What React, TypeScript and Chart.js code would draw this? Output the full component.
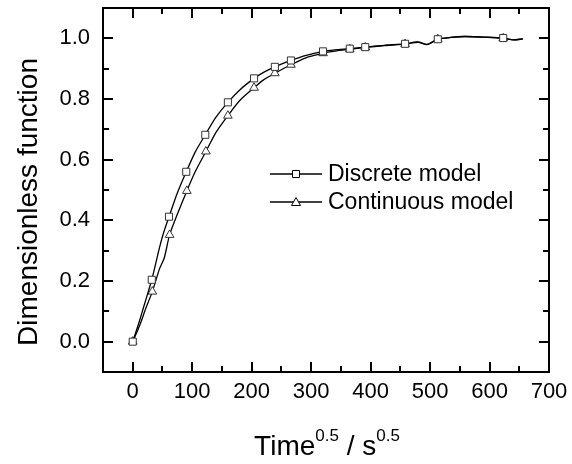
import React, { useEffect, useRef } from "react";
import { Chart, registerables } from "chart.js";

Chart.register(...registerables);

// ---- data ----
const seriesNames = ["Discrete model", "Continuous model"];

const discreteX = [0, 10, 20, 32, 45, 52, 61, 75, 90, 105, 122, 140, 160, 180, 204, 220, 239, 266, 290, 320, 340, 365, 391, 423, 458, 480, 495, 513, 535, 558, 590, 623, 640, 656];
const discreteY = [0, 0.06, 0.125, 0.204, 0.31, 0.36, 0.412, 0.49, 0.56, 0.625, 0.682, 0.74, 0.789, 0.83, 0.868, 0.888, 0.906, 0.927, 0.943, 0.957, 0.962, 0.966, 0.971, 0.977, 0.982, 0.988, 0.98, 0.997, 1.003, 1.006, 1.004, 1.001, 0.995, 0.998];
const discreteMarkerX = [0, 32, 61, 90, 122, 160, 204, 239, 266, 320, 365, 391, 458, 513, 623];

const continuousX = [0, 12, 22, 33, 45, 53, 62, 75, 91, 105, 123, 140, 160, 180, 204, 220, 239, 266, 290, 320, 340, 365, 391, 423, 458, 480, 495, 513, 535, 558, 590, 623, 640, 656];
const continuousY = [0, 0.055, 0.11, 0.165, 0.24, 0.276, 0.352, 0.42, 0.497, 0.56, 0.627, 0.69, 0.745, 0.795, 0.837, 0.863, 0.885, 0.913, 0.935, 0.951, 0.958, 0.964, 0.97, 0.976, 0.981, 0.987, 0.979, 0.997, 1.003, 1.006, 1.004, 1.0, 0.995, 0.998];
const continuousMarkerX = [0, 33, 62, 91, 123, 160, 204, 239, 266, 320, 365, 391, 458, 513, 623];

const xMajorTicks = [0, 100, 200, 300, 400, 500, 600, 700];
const xMinorTicks = [-50, 50, 150, 250, 350, 450, 550, 650];
const yMajorTicks = [0, 0.2, 0.4, 0.6, 0.8, 1.0];
const yMinorTicks = [-0.1, 0.1, 0.3, 0.5, 0.7, 0.9, 1.1];

const X_MIN = -50;
const X_MAX = 700;
const Y_MIN = -0.1;
const Y_MAX = 1.1;

const FONT = '"Liberation Sans", Arial, Helvetica, sans-serif';

const decoPlugin = {
  id: "deco",
  afterDraw(chart: any) {
    const ctx = chart.ctx as CanvasRenderingContext2D;
    const { left, right, top, bottom } = chart.chartArea;
    const xs = chart.scales.x;
    const ys = chart.scales.y;
    const MAJ = 10;
    const MIN = 6;
    ctx.save();
    ctx.strokeStyle = "#000";
    ctx.lineWidth = 2;
    ctx.lineCap = "butt";
    // ticks
    ctx.beginPath();
    const xt = (vals: number[], len: number) => {
      vals.forEach((v) => {
        const p = Math.round(xs.getPixelForValue(v));
        ctx.moveTo(p, bottom);
        ctx.lineTo(p, bottom - len);
        ctx.moveTo(p, top);
        ctx.lineTo(p, top + len);
      });
    };
    const yt = (vals: number[], len: number) => {
      vals.forEach((v) => {
        const p = Math.round(ys.getPixelForValue(v));
        ctx.moveTo(left, p);
        ctx.lineTo(left + len, p);
        ctx.moveTo(right, p);
        ctx.lineTo(right - len, p);
      });
    };
    xt(xMajorTicks, MAJ);
    xt(xMinorTicks, MIN);
    yt(yMajorTicks, MAJ);
    yt(yMinorTicks, MIN);
    ctx.stroke();
    // frame
    ctx.strokeRect(left, top, right - left, bottom - top);

    // legend
    const lx0 = 270;
    const lx1 = 322;
    const rows = [174, 202];
    ctx.font = `23px ${FONT}`;
    ctx.fillStyle = "#000";
    ctx.textBaseline = "middle";
    ctx.textAlign = "left";
    rows.forEach((ry, i) => {
      ctx.lineWidth = 1.3;
      ctx.beginPath();
      ctx.moveTo(lx0, ry);
      ctx.lineTo(lx1, ry);
      ctx.stroke();
      const cx = (lx0 + lx1) / 2;
      ctx.lineWidth = 1;
      ctx.fillStyle = "#fff";
      ctx.beginPath();
      if (i === 0) {
        ctx.rect(cx - 3.5, ry - 3.5, 7, 7);
      } else {
        ctx.moveTo(cx, ry - 4.5);
        ctx.lineTo(cx + 4.5, ry + 3.5);
        ctx.lineTo(cx - 4.5, ry + 3.5);
        ctx.closePath();
      }
      ctx.fill();
      ctx.stroke();
      ctx.fillStyle = "#000";
      ctx.fillText(seriesNames[i], 328, ry + 1);
    });

    // y title
    ctx.save();
    ctx.translate(37, 202);
    ctx.rotate(-Math.PI / 2);
    ctx.font = `28px ${FONT}`;
    ctx.textAlign = "center";
    ctx.textBaseline = "alphabetic";
    ctx.fillText("Dimensionless function", 0, 0);
    ctx.restore();

    // x title with superscripts
    const big = `28px ${FONT}`;
    const small = `17px ${FONT}`;
    const parts: [string, string, number][] = [
      ["Time", big, 0],
      ["0.5", small, -14],
      [" / s", big, 0],
      ["0.5", small, -14],
    ];
    let total = 0;
    parts.forEach(([t, f]) => {
      ctx.font = f;
      total += ctx.measureText(t).width;
    });
    let cx = 327 - total / 2;
    const baseY = 455;
    ctx.textAlign = "left";
    ctx.textBaseline = "alphabetic";
    parts.forEach(([t, f, dy]) => {
      ctx.font = f;
      ctx.fillText(t, cx, baseY + dy);
      cx += ctx.measureText(t).width;
    });
    ctx.restore();
  },
};

export default function App() {
  const ref = useRef<HTMLCanvasElement | null>(null);
  useEffect(() => {
    if (!ref.current) return;
    const mk = (xsArr: number[], ysArr: number[]) => xsArr.map((x, i) => ({ x, y: ysArr[i] }));
    const markerRadius = (markers: number[], xsArr: number[], r: number) => (c: any) =>
      markers.includes(xsArr[c.dataIndex]) ? r : 0;
    const chart = new Chart(ref.current, {
      type: "scatter",
      data: {
        datasets: [
          {
            label: seriesNames[0],
            data: mk(discreteX, discreteY),
            showLine: true,
            borderColor: "#000",
            borderWidth: 1.3,
            tension: 0.25,
            pointStyle: "rect",
            pointRadius: markerRadius(discreteMarkerX, discreteX, 5),
            pointBorderColor: "#333",
            pointBackgroundColor: "#fff",
            pointBorderWidth: 1,
          },
          {
            label: seriesNames[1],
            data: mk(continuousX, continuousY),
            showLine: true,
            borderColor: "#000",
            borderWidth: 1.3,
            tension: 0.25,
            pointStyle: "triangle",
            pointRadius: markerRadius(continuousMarkerX, continuousX, 5),
            pointBorderColor: "#333",
            pointBackgroundColor: "#fff",
            pointBorderWidth: 1,
          },
        ],
      },
      options: {
        animation: false,
        responsive: false,
        devicePixelRatio: 1,
        layout: { padding: { left: 0, top: 8, right: 23, bottom: 0 } },
        plugins: { legend: { display: false }, tooltip: { enabled: false } },
        scales: {
          x: {
            type: "linear",
            min: X_MIN,
            max: X_MAX,
            grid: { display: false, drawTicks: false },
            border: { display: false },
            afterBuildTicks: (s: any) => {
              s.ticks = xMajorTicks.map((v) => ({ value: v }));
            },
            afterFit: (s: any) => {
              s.height = 92;
              s.paddingLeft = 0;
              s.paddingRight = 0;
            },
            ticks: {
              color: "#000",
              font: { family: FONT, size: 22 },
              padding: 7,
              maxRotation: 0,
              autoSkip: false,
              callback: (v: any) => String(v),
            },
          },
          y: {
            type: "linear",
            min: Y_MIN,
            max: Y_MAX,
            grid: { display: false, drawTicks: false },
            border: { display: false },
            afterBuildTicks: (s: any) => {
              s.ticks = yMajorTicks.map((v) => ({ value: v }));
            },
            afterFit: (s: any) => {
              s.width = 103;
              s.paddingTop = 0;
              s.paddingBottom = 0;
            },
            ticks: {
              color: "#000",
              font: { family: FONT, size: 22 },
              padding: 13,
              autoSkip: false,
              callback: (v: any) => Number(v).toFixed(1),
            },
          },
        },
      },
      plugins: [decoPlugin],
    });
    return () => chart.destroy();
  }, []);
  return (
    <div style={{ position: "fixed", left: 0, top: 0, width: 572, height: 464, background: "#fff" }}>
      <canvas ref={ref} width={572} height={464} style={{ display: "block" }} />
    </div>
  );
}
